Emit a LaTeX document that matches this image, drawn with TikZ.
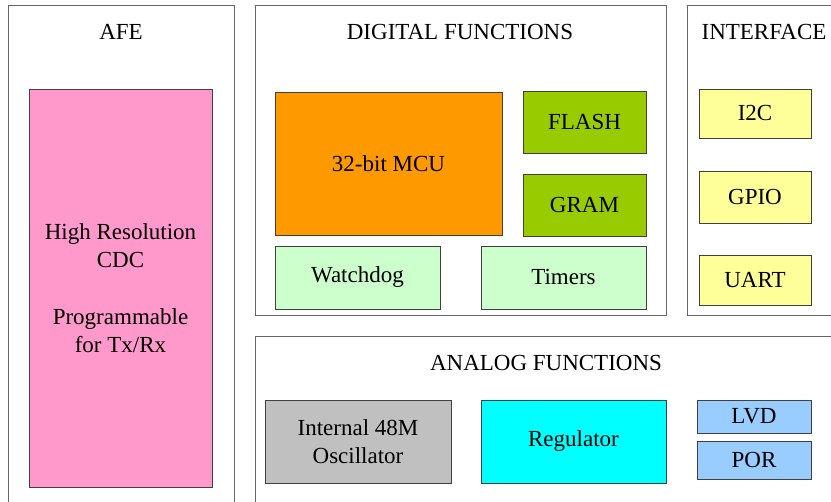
\documentclass[tikz,border=0pt]{standalone}
\usepackage{fontspec}
\setmainfont{Liberation Serif}
\usepackage{tikz}
\usepackage{xcolor}

\definecolor{cdcpink}{HTML}{FF99CC}
\definecolor{mcuorange}{HTML}{FF9900}
\definecolor{memgreen}{HTML}{99CC00}
\definecolor{periphgreen}{HTML}{CCFFCC}
\definecolor{ifyellow}{HTML}{FFFF99}
\definecolor{oscgray}{HTML}{C0C0C0}
\definecolor{regcyan}{HTML}{00FFFF}
\definecolor{monblue}{HTML}{99CCFF}

\begin{document}
\begin{tikzpicture}[x=1pt, y=-1pt,
    group/.style={draw=black!60, line width=1pt},
    blk/.style={draw=black!75, line width=0.8pt, align=center, inner sep=0pt,
                font=\fontsize{23}{27.5}\selectfont},
    title/.style={font=\fontsize{23}{27.5}\selectfont}]

    \useasboundingbox (0,0) rectangle (831,502);
    \clip (0,0) rectangle (831,502);

    % Group outlines
    \draw[group] (8,6) rectangle (234,520);    % AFE
    \draw[group] (255,6) rectangle (666,316);  % digital
    \draw[group] (687,6) rectangle (845,316);  % interface
    \draw[group] (255,337) rectangle (845,520);% analog

    % Group titles
    \node[title] (afe) at (121,32) {AFE};
    \node[title] (digital) at (460,32) {DIGITAL FUNCTIONS};
    \node[title] (interface) at (764,32) {INTERFACE};
    \node[title] (analog) at (546,363) {ANALOG FUNCTIONS};

    % AFE
    \node[blk, fill=cdcpink, minimum width=183pt, minimum height=398pt] (cdc) at (120.5,288)
        {High Resolution\\CDC\\[30pt]Programmable\\for Tx/Rx};

    % Digital functions
    \node[blk, fill=mcuorange, minimum width=227pt, minimum height=143pt] (mcu) at (388.5,163.5) {32-bit MCU};
    \node[blk, fill=memgreen, minimum width=123pt, minimum height=62pt] (flash) at (584.5,122) {FLASH};
    \node[blk, fill=memgreen, minimum width=123pt, minimum height=62pt] (gram) at (584.5,205) {GRAM};
    \node[blk, fill=periphgreen, minimum width=165pt, minimum height=63pt] (wdt) at (357.5,277.5) {Watchdog};
    \node[blk, fill=periphgreen, minimum width=165pt, minimum height=63pt] (timers) at (563.5,277.5) {Timers};

    % Interface
    \node[blk, fill=ifyellow, minimum width=112pt, minimum height=49pt] (i2c) at (755,113.5) {I2C};
    \node[blk, fill=ifyellow, minimum width=112pt, minimum height=52pt] (gpio) at (755,197) {GPIO};
    \node[blk, fill=ifyellow, minimum width=112pt, minimum height=50pt] (uart) at (755,280) {UART};

    % Analog functions
    \node[blk, fill=oscgray, minimum width=186pt, minimum height=83pt] (osc) at (358,441.5) {Internal 48M\\Oscillator};
    \node[blk, fill=regcyan, minimum width=185pt, minimum height=83pt] (reg) at (573.5,441.5) {Regulator};
    \node[blk, fill=monblue, minimum width=114pt, minimum height=33pt] (lvd) at (754,416.5) {LVD};
    \node[blk, fill=monblue, minimum width=114pt, minimum height=38pt] (por) at (754,460) {POR};

\end{tikzpicture}
\end{document}
